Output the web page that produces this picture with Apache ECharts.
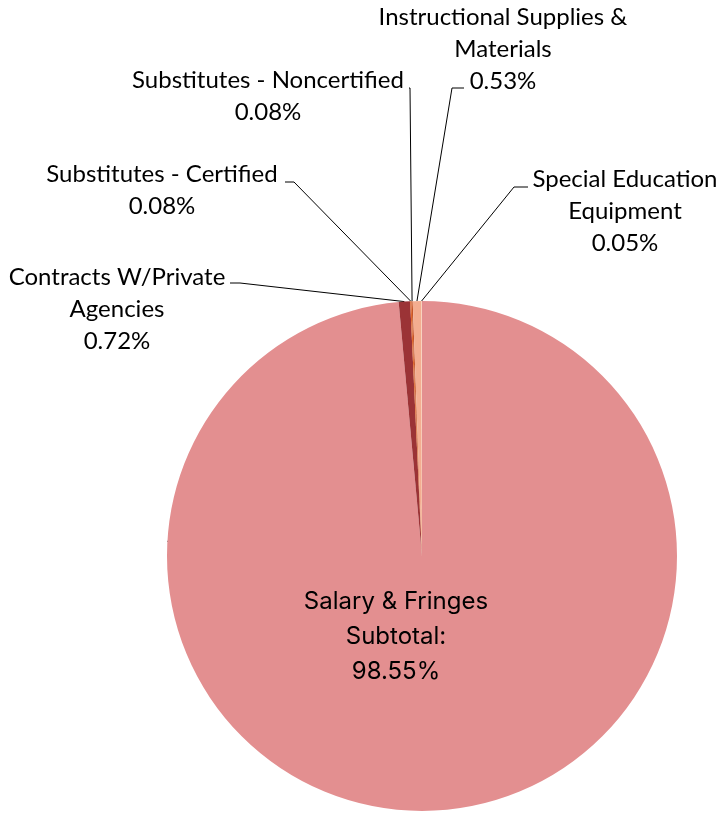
<!DOCTYPE html>
<html>
<head>
<meta charset="utf-8">
<script src="https://cdn.jsdelivr.net/npm/echarts@6/dist/echarts.min.js"></script>
<style>
  html, body { margin: 0; padding: 0; background: #fff; }
  #chart { width: 721px; height: 815px; }
</style>
</head>
<body>
<div id="chart"></div>
<script>
// category labels (line breaks as in the chart) and their shares in percent
const categories = [
  'Salary & Fringes\nSubtotal:',
  'Contracts W/Private\nAgencies',
  'Substitutes - Certified',
  'Substitutes - Noncertified',
  'Instructional Supplies &\nMaterials',
  'Special Education\nEquipment'
];
const shares = [98.55, 0.72, 0.08, 0.08, 0.53, 0.05];
const colors = ['#e38f90', '#9b3336', '#e0682c', '#c4552a', '#f3ad90', '#f8cdb4'];

// where each label sits, and the elbow of its leader line
const labelAt = [[396, 637], [117, 309], [162, 190], [268, 96], [503, 49], [625, 211]];
const elbowAt = [null, [[240, 283], [230, 283]], [[294, 182], [285, 182]], [[410, 88], [409, 88]], [[452, 88], [464, 88]], [[514, 187], [528, 187]]];

const CENTER = [422, 556];
const RADIUS = 255;

const total = shares.reduce((a, b) => a + b, 0);
let acc = 0;
const midAngle = shares.map((v) => {
  const mid = (acc + v / 2) / total * Math.PI * 2;
  acc += v;
  return mid;
});

function edgePoint(i) {
  const a = midAngle[i];
  return [CENTER[0] + RADIUS * Math.sin(a), CENTER[1] - RADIUS * Math.cos(a)];
}

const chart = echarts.init(document.getElementById('chart'), null, { renderer: 'canvas' });

chart.setOption({
  animation: false,
  series: [{
    type: 'pie',
    center: CENTER,
    radius: RADIUS,
    startAngle: 90,
    clockwise: true,
    avoidLabelOverlap: false,
    data: categories.map((name, i) => ({
      name,
      value: shares[i],
      itemStyle: { color: colors[i] },
      label: i === 0
        ? { position: 'inside', fontFamily: 'Inter', fontSize: 24, lineHeight: 35 }
        : { position: 'outside' }
    })),
    label: {
      show: true,
      formatter: (p) => `${p.name}\n${p.value.toFixed(2)}%`,
      color: '#000',
      fontFamily: 'Lato',
      fontSize: 24,
      lineHeight: 32,
      align: 'center'
    },
    labelLine: { show: true, lineStyle: { color: '#000', width: 1 } },
    labelLayout: (params) => {
      const i = params.dataIndex;
      const out = { x: labelAt[i][0], y: labelAt[i][1], align: 'center', verticalAlign: 'middle' };
      if (elbowAt[i]) out.labelLinePoints = [edgePoint(i), elbowAt[i][0], elbowAt[i][1]];
      return out;
    }
  }]
});
</script>
</body>
</html>
